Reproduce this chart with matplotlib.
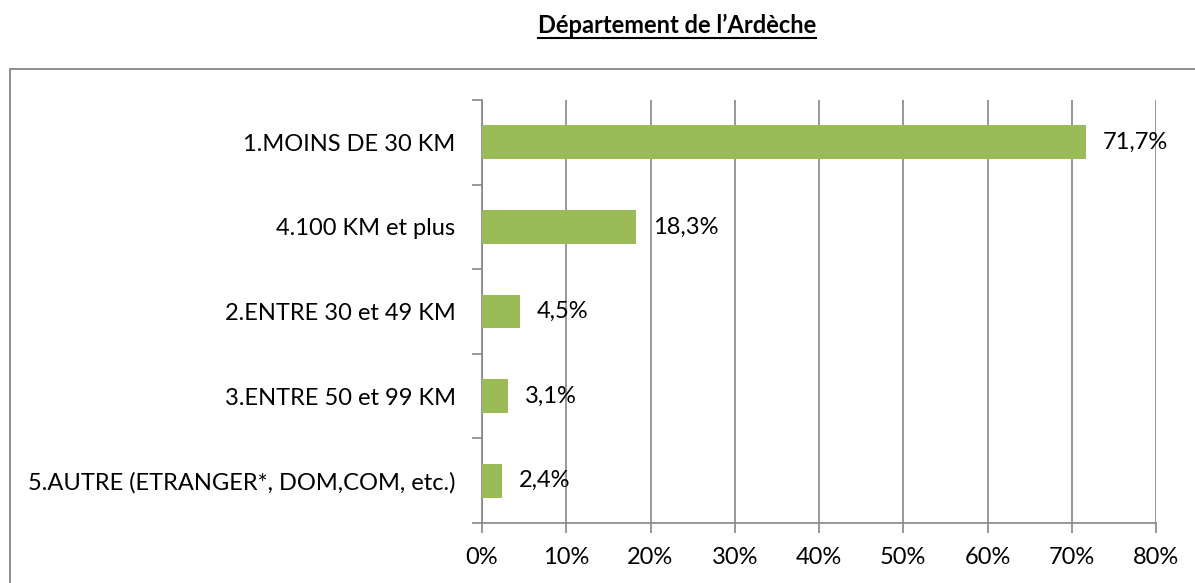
import matplotlib
matplotlib.use("Agg")
import matplotlib.pyplot as plt
from matplotlib.patches import Rectangle

plt.rcParams['font.family'] = ['Lato', 'DejaVu Sans']

# data
categories = ['1.MOINS DE 30 KM', '4.100 KM et plus', '2.ENTRE 30 et 49 KM',
              '3.ENTRE 50 et 99 KM', '5.AUTRE (ETRANGER*, DOM,COM, etc.)']
values = [71.7, 18.3, 4.5, 3.1, 2.4]
value_labels = ['71,7%', '18,3%', '4,5%', '3,1%', '2,4%']
xticks = [0, 10, 20, 30, 40, 50, 60, 70, 80]
title = 'Département de l\u2019Ardèche'

green = '#9BBB59'
gray = '#868686'
fs = 17

fig = plt.figure(figsize=(11.95, 5.83), dpi=100)
ax = fig.add_axes([482/1195, 1-523/583, (1156-482)/1195, (523-100)/583])

ypos = list(range(len(categories)))[::-1]
ax.barh(ypos, values, height=0.4, color=green, zorder=3)
ax.set_xlim(0, 80)
ax.set_ylim(-0.5, len(categories)-0.5)

for y, v, lab in zip(ypos, values, value_labels):
    ax.annotate(lab, (v, y), xytext=(12, 0), textcoords='offset points',
                va='center', ha='left', fontsize=fs, color='black', zorder=4)

ax.set_xticks(xticks)
ax.set_xticklabels([f'{t}%' for t in xticks], fontsize=fs)
ax.set_yticks(ypos)
ax.set_yticklabels(categories, fontsize=fs)
# ticks on category boundaries
ax.set_yticks([i - 0.5 for i in range(len(categories)+1)], minor=True)
ax.tick_params(axis='y', which='major', length=0, pad=19)
ax.tick_params(axis='y', which='minor', length=7, color=gray, width=1.2)
ax.tick_params(axis='x', length=7, color=gray, width=1.2, pad=10)

ax.grid(axis='x', color=gray, linewidth=1.2, zorder=0)
for s in ['top', 'right']:
    ax.spines[s].set_visible(False)
for s in ['left', 'bottom']:
    ax.spines[s].set_color(gray)
    ax.spines[s].set_linewidth(1.2)

# title, bold and underlined
t = fig.text(677/1195, 1-25/583, title, ha='center', va='center',
             fontsize=fs, fontweight='bold')
fig.canvas.draw()
bb = t.get_window_extent()
fig.add_artist(plt.Line2D([bb.x0/1195, bb.x1/1195], [(bb.y0-1)/583]*2,
                          color='black', linewidth=1.5))

# chart frame (cut by the picture edges)
fig.add_artist(Rectangle((10/1195, -0.1), 1.2, 1-69/583+0.1, transform=fig.transFigure,
                         fill=False, edgecolor=gray, linewidth=1.3))

fig.savefig('out.png', dpi=100)
